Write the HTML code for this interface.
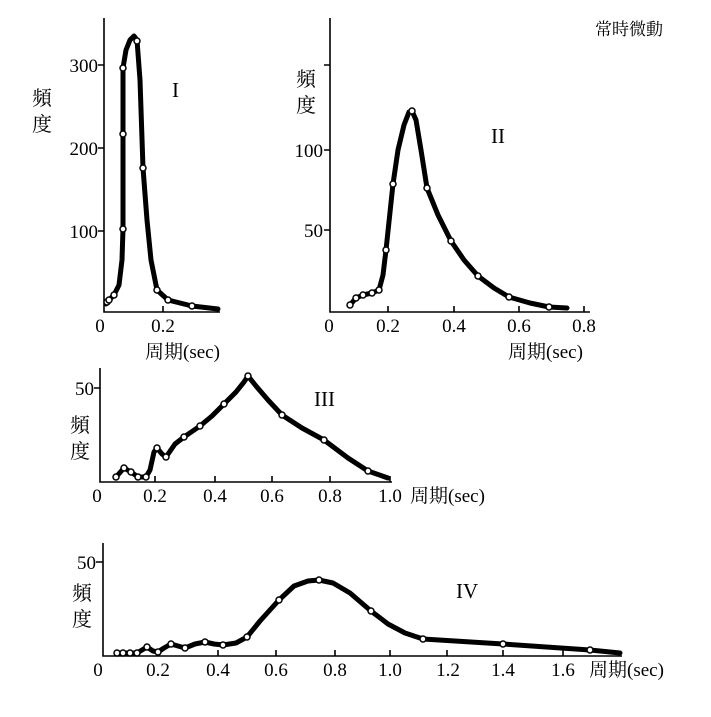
<!DOCTYPE html>
<html><head><meta charset="utf-8"><style>
html,body{margin:0;padding:0;background:#fff}
svg text{font-family:"Liberation Serif","Noto Serif CJK SC",serif;fill:#000}
</style></head><body>
<svg width="711" height="712" viewBox="0 0 711 712" xmlns="http://www.w3.org/2000/svg">
<g stroke="#000" fill="none" stroke-width="1.6">
<path d="M104 18 V312 H220"/>
<path d="M104 65 h-6 M104 148 h-6 M104 231 h-6 M163 312 v-6"/>
<path d="M330 18 V312 H590"/>
<path d="M330 65 h-6 M330 150 h-6 M330 230 h-6 M388 312 v-6 M454 312 v-6 M519 312 v-6 M584 312 v-6"/>
<path d="M100 368 V482 H392"/>
<path d="M100 388 h-6 M155 482 v-6 M215 482 v-6 M272 482 v-6 M330 482 v-6 M390 482 v-6"/>
<path d="M103 543 V656 H622"/>
<path d="M103 562 h-7 M158 656 v-6 M218 656 v-6 M276 656 v-6 M335 656 v-6 M390 656 v-6 M447 656 v-6 M503 656 v-6 M563 656 v-6"/>
</g>
<g stroke="#000" fill="none" stroke-width="5" stroke-linejoin="round" stroke-linecap="round">
<polyline points="106,304 109,300 114,295 119,285 122,260 123,229 123,134 123,68 126,50 130,40 134,36 137,40 140,80 143,168 147,220 151,260 157,290 168,300 192,306 218,309"/>
<polyline points="350,305 356,298 363,295 372,293 379,290 383,275 386,250 393,184 398,150 404,125 409,112 412,111 416,120 421,150 427,188 438,215 451,241 464,260 478,276 494,288 509,297 530,303 549,307 567,308"/>
<polyline points="116,477 124,468 131,472 138,477 146,477 150,470 154,452 157,448 162,454 166,457 175,444 184,437 200,426 212,416 224,404 236,392 244,382 248,376 256,386 268,400 282,415 302,428 324,440 348,458 368,471 388,478"/>
<polyline points="117,653 137,653 142,650 147,647 153,651 158,652 164,648 171,644 178,646 185,648 195,644 205,642 214,644 223,645 236,643 247,637 260,621 279,600 294,586 308,581 319,580 333,583 350,593 364,605 371,611 388,624 405,633 423,639 503,644 590,650 620,653"/>
</g>
<g stroke="#000" fill="#fff" stroke-width="1.5">
<circle cx="107" cy="302" r="3"/><circle cx="109" cy="300" r="3"/><circle cx="114" cy="295" r="3"/><circle cx="123" cy="229" r="3"/><circle cx="123" cy="134" r="3"/><circle cx="123" cy="68" r="3"/><circle cx="137" cy="41" r="3"/><circle cx="143" cy="168" r="3"/><circle cx="157" cy="290" r="3"/><circle cx="168" cy="300" r="3"/><circle cx="192" cy="306" r="3"/>
<circle cx="350" cy="305" r="3"/><circle cx="356" cy="298" r="3"/><circle cx="363" cy="295" r="3"/><circle cx="372" cy="293" r="3"/><circle cx="379" cy="290" r="3"/><circle cx="386" cy="250" r="3"/><circle cx="393" cy="184" r="3"/><circle cx="412" cy="111" r="3"/><circle cx="427" cy="188" r="3"/><circle cx="451" cy="241" r="3"/><circle cx="478" cy="276" r="3"/><circle cx="509" cy="297" r="3"/><circle cx="549" cy="307" r="3"/>
<circle cx="116" cy="477" r="3"/><circle cx="124" cy="468" r="3"/><circle cx="131" cy="472" r="3"/><circle cx="138" cy="477" r="3"/><circle cx="146" cy="477" r="3"/><circle cx="157" cy="448" r="3"/><circle cx="166" cy="457" r="3"/><circle cx="184" cy="437" r="3"/><circle cx="200" cy="426" r="3"/><circle cx="224" cy="404" r="3"/><circle cx="248" cy="376" r="3"/><circle cx="282" cy="415" r="3"/><circle cx="324" cy="440" r="3"/><circle cx="368" cy="471" r="3"/>
<circle cx="117" cy="653" r="3"/><circle cx="123" cy="653" r="3"/><circle cx="130" cy="653" r="3"/><circle cx="137" cy="653" r="3"/><circle cx="147" cy="647" r="3"/><circle cx="158" cy="652" r="3"/><circle cx="171" cy="644" r="3"/><circle cx="185" cy="648" r="3"/><circle cx="205" cy="642" r="3"/><circle cx="223" cy="645" r="3"/><circle cx="247" cy="637" r="3"/><circle cx="279" cy="600" r="3"/><circle cx="319" cy="580" r="3"/><circle cx="371" cy="611" r="3"/><circle cx="423" cy="639" r="3"/><circle cx="503" cy="644" r="3"/><circle cx="590" cy="650" r="3"/>
</g>
<g font-size="19">
<text x="595" y="35" font-size="17">常時微動</text>
<text x="98" y="72" text-anchor="end">300</text>
<text x="98" y="155" text-anchor="end">200</text>
<text x="98" y="238" text-anchor="end">100</text>
<text x="32" y="105" font-size="20">頻</text>
<text x="32" y="131" font-size="20">度</text>
<text x="172" y="97" font-size="21">I</text>
<text x="100" y="332" text-anchor="middle">0</text>
<text x="163" y="332" text-anchor="middle">0.2</text>
<text x="145" y="358">周期(sec)</text>
<text x="323" y="157" text-anchor="end">100</text>
<text x="323" y="237" text-anchor="end">50</text>
<text x="296" y="86" font-size="20">頻</text>
<text x="296" y="112" font-size="20">度</text>
<text x="491" y="143" font-size="21">II</text>
<text x="329" y="332" text-anchor="middle">0</text>
<text x="388" y="332" text-anchor="middle">0.2</text>
<text x="454" y="332" text-anchor="middle">0.4</text>
<text x="519" y="332" text-anchor="middle">0.6</text>
<text x="584" y="332" text-anchor="middle">0.8</text>
<text x="508" y="358">周期(sec)</text>
<text x="94" y="395" text-anchor="end">50</text>
<text x="70" y="432" font-size="20">頻</text>
<text x="70" y="458" font-size="20">度</text>
<text x="314" y="406" font-size="21">III</text>
<text x="97" y="502" text-anchor="middle">0</text>
<text x="155" y="502" text-anchor="middle">0.2</text>
<text x="215" y="502" text-anchor="middle">0.4</text>
<text x="272" y="502" text-anchor="middle">0.6</text>
<text x="330" y="502" text-anchor="middle">0.8</text>
<text x="390" y="502" text-anchor="middle">1.0</text>
<text x="410" y="502">周期(sec)</text>
<text x="96" y="569" text-anchor="end">50</text>
<text x="72" y="600" font-size="20">頻</text>
<text x="72" y="626" font-size="20">度</text>
<text x="456" y="598" font-size="21">IV</text>
<text x="98" y="676" text-anchor="middle">0</text>
<text x="158" y="676" text-anchor="middle">0.2</text>
<text x="218" y="676" text-anchor="middle">0.4</text>
<text x="276" y="676" text-anchor="middle">0.6</text>
<text x="335" y="676" text-anchor="middle">0.8</text>
<text x="390" y="676" text-anchor="middle">1.0</text>
<text x="448" y="676" text-anchor="middle">1.2</text>
<text x="503" y="676" text-anchor="middle">1.4</text>
<text x="563" y="676" text-anchor="middle">1.6</text>
<text x="589" y="676">周期(sec)</text>
</g>
</svg>
</body></html>
